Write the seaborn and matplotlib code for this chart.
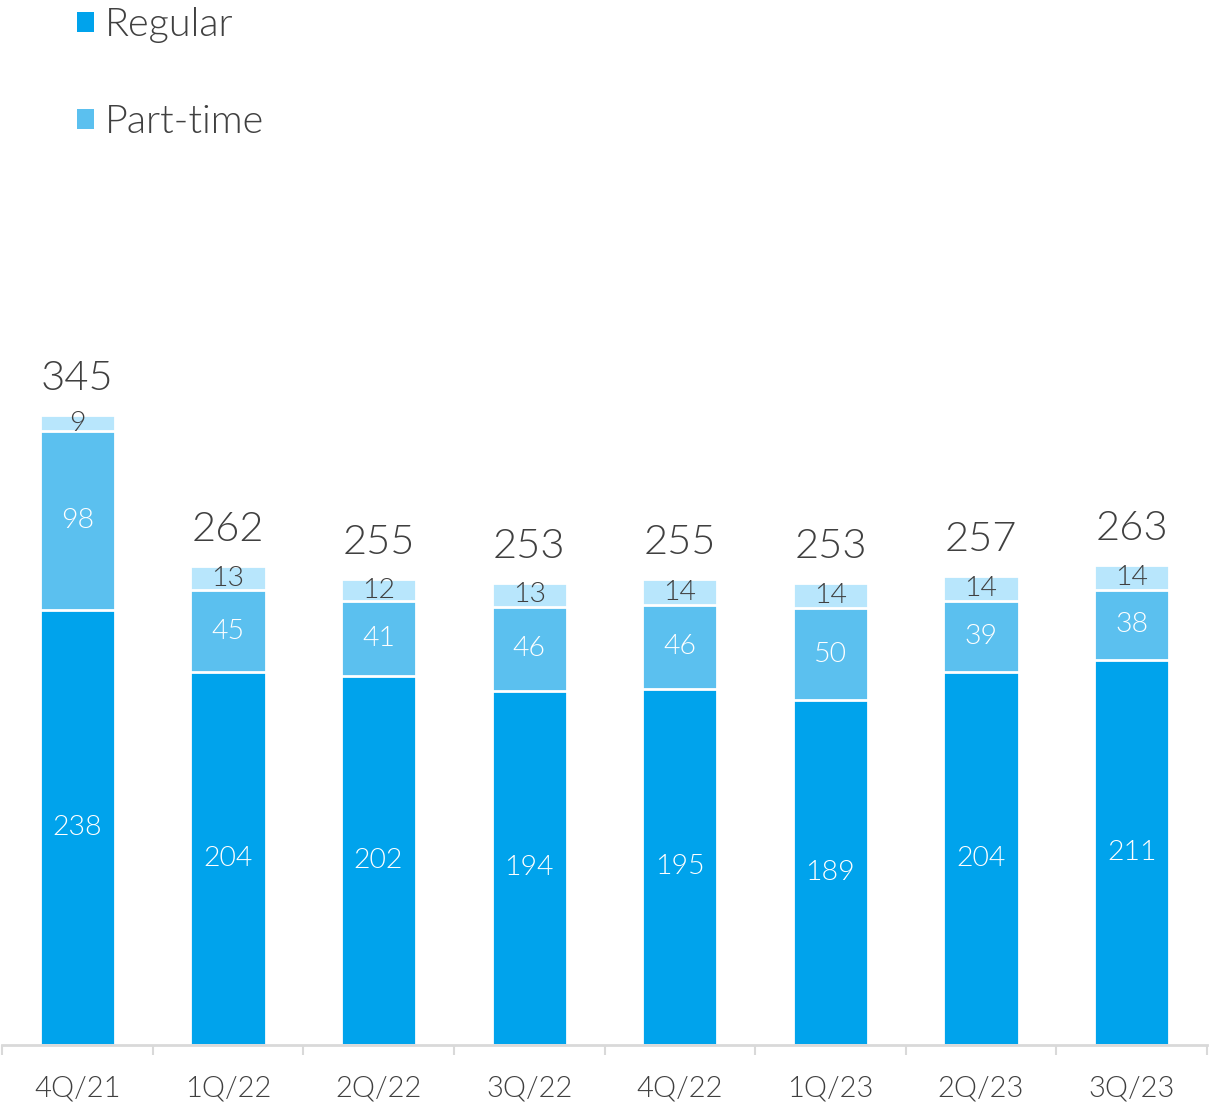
import matplotlib
matplotlib.use("Agg")
import matplotlib.pyplot as plt
from matplotlib.patches import Patch
from matplotlib.ticker import FixedLocator
import seaborn as sns
import numpy as np
import pandas as pd

# Headcount by quarter
quarters = ["4Q/21", "1Q/22", "2Q/22", "3Q/22", "4Q/22", "1Q/23", "2Q/23", "3Q/23"]
regular = [238, 204, 202, 194, 195, 189, 204, 211]
part_time = [98, 45, 41, 46, 46, 50, 39, 38]
other = [9, 13, 12, 13, 14, 14, 14, 14]
totals = [345, 262, 255, 253, 255, 253, 257, 263]

c_regular = "#00A3EC"
c_part = "#5BC0EF"
c_other = "#B8E6FC"
c_text = "#404040"
c_axis = "#D9D9D9"

sns.set_theme(style="white")
plt.rcParams["font.family"] = ["Lato", "DejaVu Sans"]
plt.rcParams["font.weight"] = 300

df = pd.DataFrame({
    "quarter": quarters,
    "regular": regular,
    "part_time": part_time,
    "other": other,
})
df["upper"] = df["regular"] + df["part_time"] + df["other"]
df["middle"] = df["regular"] + df["part_time"]

fig = plt.figure(figsize=(12.10, 11.05), dpi=100)
ax = fig.add_axes([2 / 1210, 60 / 1105, 1205 / 1210, 895 / 1105])

bw = 0.5
# Layers are drawn back to front as cumulative stacks
for col, color in [("upper", c_other), ("middle", c_part), ("regular", c_regular)]:
    sns.barplot(data=df, x="quarter", y=col, color=color, width=bw,
                errorbar=None, edgecolor="white", linewidth=2, saturation=1, ax=ax)

ax.set_xlim(-0.5, 7.5)
ax.set_ylim(0, 490)

for i in range(len(quarters)):
    r, p, o, t = regular[i], part_time[i], other[i], totals[i]
    ax.text(i, r / 2, f"{r}", ha="center", va="center", color="white", fontsize=20.5)
    ax.text(i, r + p / 2, f"{p}", ha="center", va="center", color="white", fontsize=20.5)
    ax.text(i, r + p + o / 2, f"{o}", ha="center", va="center", color=c_text, fontsize=20.5)
    ax.annotate(f"{t}", (i, r + p + o), xytext=(0, 13), textcoords="offset points",
                ha="center", va="bottom", color=c_text, fontsize=30)

for s in ["top", "right", "left"]:
    ax.spines[s].set_visible(False)
ax.spines["bottom"].set_color(c_axis)
ax.spines["bottom"].set_linewidth(2)
ax.set_yticks([])
ax.set_xlabel("")
ax.set_ylabel("")
ax.xaxis.set_minor_locator(FixedLocator(np.arange(-0.5, 8, 1.0)))
ax.tick_params(axis="x", which="major", length=0, pad=22, labelsize=21, labelcolor=c_text)
ax.tick_params(axis="x", which="minor", length=7.5, width=1.5, color=c_axis, direction="out", bottom=True)

handles = [Patch(facecolor=c_regular, edgecolor="none", label="Regular"),
           Patch(facecolor=c_part, edgecolor="none", label="Part-time")]
fig.legend(handles=handles, loc="upper left", bbox_to_anchor=(77 / 1210, 1 - 7 / 1105),
           frameon=False, fontsize=28.5, labelcolor=c_text, handlelength=0.42, handleheight=0.42,
           handletextpad=0.28, labelspacing=1.55, borderpad=0, borderaxespad=0)

fig.savefig("out.png", dpi=100)
